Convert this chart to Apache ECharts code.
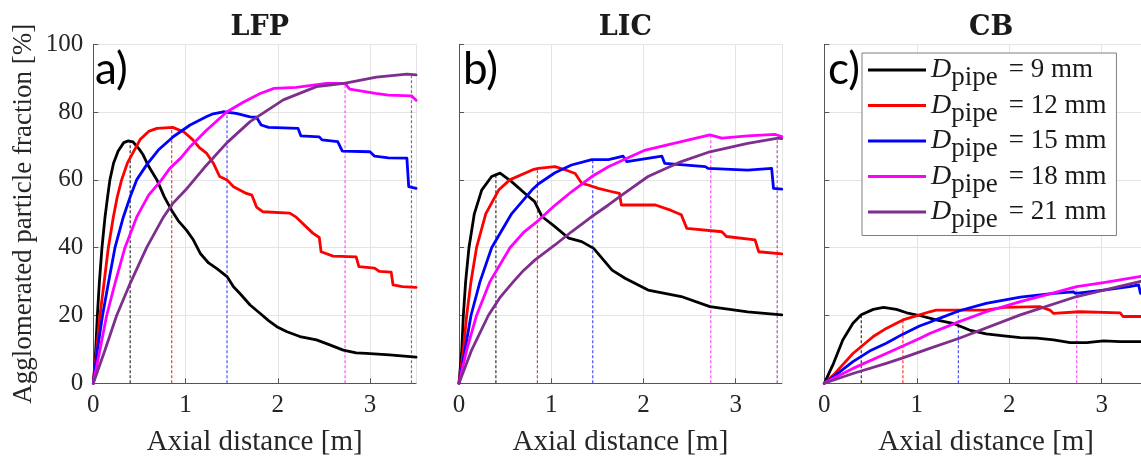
<!DOCTYPE html>
<html>
<head>
<meta charset="utf-8">
<script src="https://cdn.jsdelivr.net/npm/echarts@6/dist/echarts.min.js"></script>
<style>
html,body{margin:0;padding:0;background:#fff;overflow:hidden;}
#chart{width:1141px;height:458px;}
</style>
</head>
<body>
<div id="chart"></div>
<script>
// ---------- DATA ----------
const panelTitles = ['LFP', 'LIC', 'CB'];
const panelLetters = ['a)', 'b)', 'c)'];
const pipeDiameters = [9, 12, 15, 18, 21];
const xTicks = [0, 1, 2, 3];
const yTicks = [0, 20, 40, 60, 80, 100];
const peakX = [0.40, 0.85, 1.45, 2.73, 3.45];

// Panel a) LFP
const lfp9 = [[0,0],[0.015,5],[0.026,9.8],[0.044,20],[0.065,29.5],[0.094,40],[0.127,49],[0.155,55],[0.18,60],[0.22,65],[0.27,68.5],[0.33,71],[0.38,71.5],[0.43,71.2],[0.5,69],[0.54,67.4],[0.6,64],[0.69,60],[0.77,55],[0.85,51],[0.92,48],[1.01,45.2],[1.08,42.5],[1.16,38.3],[1.25,35.5],[1.34,33.8],[1.45,31.5],[1.52,28.5],[1.59,26.5],[1.70,23.1],[1.81,20.6],[1.9,18.5],[1.99,16.7],[2.1,15.2],[2.24,13.8],[2.42,12.8],[2.55,11.5],[2.71,9.8],[2.85,9.0],[2.96,8.8],[3.21,8.4],[3.5,7.7]];
const lfp12 = [[0,0],[0.036,9.8],[0.072,20],[0.116,29.5],[0.163,40],[0.217,49],[0.26,55],[0.307,60],[0.37,65],[0.45,69],[0.51,72],[0.6,74.3],[0.69,75.2],[0.86,75.5],[0.98,74.2],[1.08,71.8],[1.15,69.5],[1.23,67.8],[1.3,65],[1.37,61],[1.45,60],[1.52,58],[1.66,56],[1.72,55.5],[1.77,52],[1.84,50.6],[2.13,50.2],[2.2,49],[2.38,44.3],[2.45,43],[2.47,38.8],[2.6,37.5],[2.85,37.3],[2.88,34.4],[3.05,34],[3.1,33],[3.23,32.8],[3.25,29],[3.35,28.5],[3.5,28.3]];
const lfp15 = [[0,0],[0.044,9.8],[0.1,20],[0.163,29.5],[0.235,40],[0.325,49],[0.4,55],[0.47,60],[0.58,64.5],[0.705,68.8],[0.87,72.8],[1.05,76.2],[1.23,78.7],[1.3,79.5],[1.41,80.1],[1.55,79.6],[1.70,78.6],[1.77,78.5],[1.82,76.2],[1.9,75.5],[2.22,75.2],[2.25,73],[2.45,72.7],[2.48,71.8],[2.65,71.3],[2.7,68.5],[3.0,68.3],[3.05,67],[3.2,66.5],[3.4,66.4],[3.42,58],[3.5,57.5]];
const lfp18 = [[0,0],[0.072,9.8],[0.145,20],[0.235,29.5],[0.343,40],[0.47,49],[0.6,55.5],[0.74,60],[0.83,63.4],[0.95,66.5],[1.05,69.8],[1.23,74.7],[1.45,80.1],[1.63,83],[1.81,85.5],[1.96,87],[2.2,87.3],[2.53,88.5],[2.73,88.5],[2.78,86.8],[3.06,85.5],[3.2,85],[3.45,84.8],[3.5,83.5]];
const lfp21 = [[0,0],[0.127,9.8],[0.253,20],[0.4,29.5],[0.578,40],[0.76,49],[0.86,53],[1.0,57],[1.2,63.5],[1.45,71],[1.7,77.2],[2.06,83.6],[2.42,87.5],[2.72,88.5],[3.07,90.3],[3.4,91.2],[3.5,91]];
const lfpPeakY = [71.5, 75.5, 80, 88.5, 91.2];

// Panel b) LIC
const lic9 = [[0,0],[0.015,5],[0.03,9.8],[0.047,20],[0.072,30],[0.108,40],[0.166,50],[0.246,57],[0.354,61],[0.445,62],[0.57,59.5],[0.716,56],[0.82,53.6],[0.9,49.2],[1.04,46.2],[1.19,42.8],[1.33,41.8],[1.46,39.8],[1.66,33.4],[1.8,31],[2.05,27.5],[2.41,25.6],[2.72,22.6],[3.13,21.1],[3.5,20.2]];
const lic12 = [[0,0],[0.047,9.8],[0.083,20],[0.13,30],[0.19,40],[0.29,50],[0.43,57],[0.55,60],[0.8,63],[0.86,63.4],[1.04,63.9],[1.15,63],[1.26,61.9],[1.33,59],[1.4,58.5],[1.51,57.5],[1.66,56.5],[1.74,56],[1.76,52.6],[2.13,52.6],[2.3,51],[2.41,49.7],[2.47,45.7],[2.85,44.7],[2.9,43.3],[3.21,42.3],[3.25,38.8],[3.5,38.2]];
const lic15 = [[0,0],[0.065,9.8],[0.13,20],[0.228,30],[0.354,40],[0.57,50],[0.79,57],[0.86,58.8],[1.04,62.1],[1.22,64.4],[1.44,66],[1.62,66],[1.69,66.4],[1.78,67],[1.82,65.4],[2.2,67],[2.23,64.9],[2.67,63.9],[2.7,63.4],[3.13,62.9],[3.39,63.4],[3.41,57.5],[3.5,57.3]];
const lic18 = [[0,0],[0.083,9.8],[0.19,20],[0.336,30],[0.553,40],[0.7,44.5],[0.86,48],[1.04,52.5],[1.22,56.5],[1.44,61],[1.62,63.9],[1.78,65.9],[2.02,68.8],[2.41,71.3],[2.72,73.3],[2.85,72.3],[3.13,73],[3.43,73.4],[3.5,72.8]];
const lic21 = [[0,0],[0.137,9.8],[0.318,20],[0.45,25.5],[0.59,30],[0.7,33.3],[0.825,36.4],[1.04,40.8],[1.22,44.7],[1.44,49.2],[1.62,52.6],[1.78,55.8],[2.05,61],[2.41,65.4],[2.72,68.3],[3.13,70.8],[3.46,72.3],[3.5,72.2]];
const licPeakY = [62, 63.4, 66.2, 73.3, 72.3];

// Panel c) CB
const cb9 = [[0,0],[0.1,5.9],[0.2,12.8],[0.31,17.7],[0.4,20.2],[0.53,21.8],[0.64,22.4],[0.78,21.8],[0.89,20.8],[1.03,20],[1.21,18.7],[1.39,17.7],[1.57,15.7],[1.75,14.6],[1.94,14],[2.12,13.5],[2.3,13.3],[2.48,12.8],[2.66,12],[2.84,12],[3.02,12.5],[3.2,12.3],[3.5,12.3]];
const cb12 = [[0,0],[0.1,2.5],[0.2,5.5],[0.31,8.8],[0.53,13.8],[0.67,16.2],[0.85,18.7],[1.03,20.2],[1.14,21.1],[1.21,21.6],[1.75,21.6],[1.94,22.4],[2.33,22.6],[2.44,21.6],[2.48,20.6],[2.76,21.1],[3.2,20.8],[3.23,19.7],[3.5,19.7]];
const cb15 = [[0,0],[0.1,2],[0.31,6.4],[0.49,9.5],[0.67,11.8],[0.85,14.5],[1.03,16.9],[1.14,18],[1.21,18.8],[1.46,21.4],[1.75,23.6],[2.12,25.4],[2.48,26.5],[2.69,27],[2.72,26.5],[3.02,27.5],[3.3,28.5],[3.4,29],[3.42,26.5],[3.5,26.5]];
const cb18 = [[0,0],[0.1,1.5],[0.31,4.4],[0.67,8.8],[1.03,13.2],[1.14,14.7],[1.46,18.2],[1.75,21.1],[2.12,24.1],[2.48,26.7],[2.73,28.5],[3.02,29.7],[3.41,31.5],[3.5,32]];
const cb21 = [[0,0],[0.31,2.9],[0.67,5.9],[0.85,7.5],[1.14,10.3],[1.46,13.3],[2.12,20.2],[2.73,25.6],[3.41,30],[3.5,30.6]];
const cbPeakY = [20.2, 18.7, 21.4, 28.5, 30.3];

// ---------- STYLE / LAYOUT ----------
const colors = ['#000000', '#ff0000', '#0000ff', '#ff00ff', '#7e2f8e'];
const dashColors = ['#333333', '#ff3333', '#4d4dff', '#ff4dff', '#9b59a8'];
const panelData = [
  [lfp9, lfp12, lfp15, lfp18, lfp21],
  [lic9, lic12, lic15, lic18, lic21],
  [cb9, cb12, cb15, cb18, cb21]
];
const panelPeaks = [lfpPeakY, licPeakY, cbPeakY];
const gridLeft = [93.3, 459, 824.3];
const gridWidth = [322.8, 322.8, 323.6];
const gridTop = 44.3;
const gridHeight = 339;
const serif = '"Liberation Serif", "Times New Roman", serif';
const names = pipeDiameters.map(d => 'D_pipe = ' + d + ' mm');

const grids = [], xAxes = [], yAxes = [], series = [], titles = [], graphics = [];
const letterLeft = [95, 463, 828];
for (let p = 0; p < 3; p++) {
  grids.push({ left: gridLeft[p], top: gridTop, width: gridWidth[p], height: gridHeight,
    containLabel: false, outerBoundsMode: 'none' });
  xAxes.push({
    type: 'value', gridIndex: p, min: 0, max: 3.5, interval: 1,
    name: 'Axial distance [m]', nameLocation: 'middle', nameGap: 45,
    nameTextStyle: { fontFamily: serif, fontSize: 29, color: '#262626' },
    axisLine: { show: true, lineStyle: { color: '#555', width: 1 } },
    axisTick: { show: true, inside: true, length: 5, lineStyle: { color: '#555' } },
    axisLabel: { fontFamily: serif, fontSize: 25, color: '#262626', margin: 10, showMaxLabel: false,
      formatter: v => (xTicks.indexOf(v) >= 0 ? String(v) : '') },
    splitLine: { show: true, lineStyle: { color: '#e4e4e4', width: 1 } }
  });
  yAxes.push({
    type: 'value', gridIndex: p, min: 0, max: 100, interval: 20,
    name: p === 0 ? 'Agglomerated particle fraction [%]' : '',
    nameLocation: 'middle', nameGap: 56, nameRotate: 90,
    nameTextStyle: { fontFamily: serif, fontSize: 27, color: '#262626' },
    axisLine: { show: true, lineStyle: { color: '#555', width: 1 } },
    axisTick: { show: true, inside: true, length: 5, lineStyle: { color: '#555' } },
    axisLabel: { show: p === 0, fontFamily: serif, fontSize: 25, color: '#262626', margin: 10,
      formatter: v => (yTicks.indexOf(v) >= 0 ? String(v) : '') },
    splitLine: { show: true, lineStyle: { color: '#e4e4e4', width: 1 } }
  });
  titles.push({
    text: panelTitles[p], left: gridLeft[p] + gridWidth[p] / 2, top: 9, textAlign: 'center',
    textStyle: { fontFamily: '"DejaVu Serif", serif', fontWeight: 'bold', fontSize: 27, color: '#1a1a1a' }
  });
  graphics.push({
    type: 'text', left: letterLeft[p], top: 48, z: 50,
    style: { text: panelLetters[p], font: '44px Lato, "Open Sans", sans-serif', fill: '#000' }
  });
  for (let s = 0; s < 5; s++) {
    series.push({
      type: 'line', xAxisIndex: p, yAxisIndex: p, name: 'peak' + p + '_' + s,
      data: [[peakX[s], 0], [peakX[s], panelPeaks[p][s]]],
      symbol: 'none', silent: true, z: 1,
      lineStyle: { color: dashColors[s], width: 1.2, type: [3, 2] }
    });
  }
  for (let s = 0; s < 5; s++) {
    series.push({
      type: 'line', xAxisIndex: p, yAxisIndex: p, name: names[s],
      data: panelData[p][s], symbol: 'none', z: 2 + s,
      lineStyle: { color: colors[s], width: 2.8, join: 'round', cap: 'round' }, itemStyle: { color: colors[s] }
    });
  }
}

const chart = echarts.init(document.getElementById('chart'), null, { renderer: 'canvas' });
chart.setOption({
  animation: false,
  backgroundColor: '#ffffff',
  title: titles,
  grid: grids,
  xAxis: xAxes,
  yAxis: yAxes,
  legend: {
    data: names, orient: 'vertical', left: 862, top: 53,
    backgroundColor: '#ffffff', borderColor: '#7f7f7f', borderWidth: 1,
    padding: [3, 10, 2, 6], itemGap: 0, itemWidth: 58, itemHeight: 3, icon: 'rect',
    selectedMode: false,
    formatter: n => {
      const d = n.split('= ')[1];
      return '{d|D}{p|pipe}{t|= ' + d + '}';
    },
    textStyle: {
      color: '#1a1a1a',
      rich: {
        d: { fontFamily: serif, fontStyle: 'italic', fontSize: 28, color: '#1a1a1a' },
        p: { fontFamily: serif, fontSize: 27, color: '#1a1a1a', padding: [16, 11, 0, 0] },
        t: { fontFamily: serif, fontSize: 27, color: '#1a1a1a' }
      }
    },
    z: 20
  },
  graphic: graphics,
  series: series
});
</script>
</body>
</html>
